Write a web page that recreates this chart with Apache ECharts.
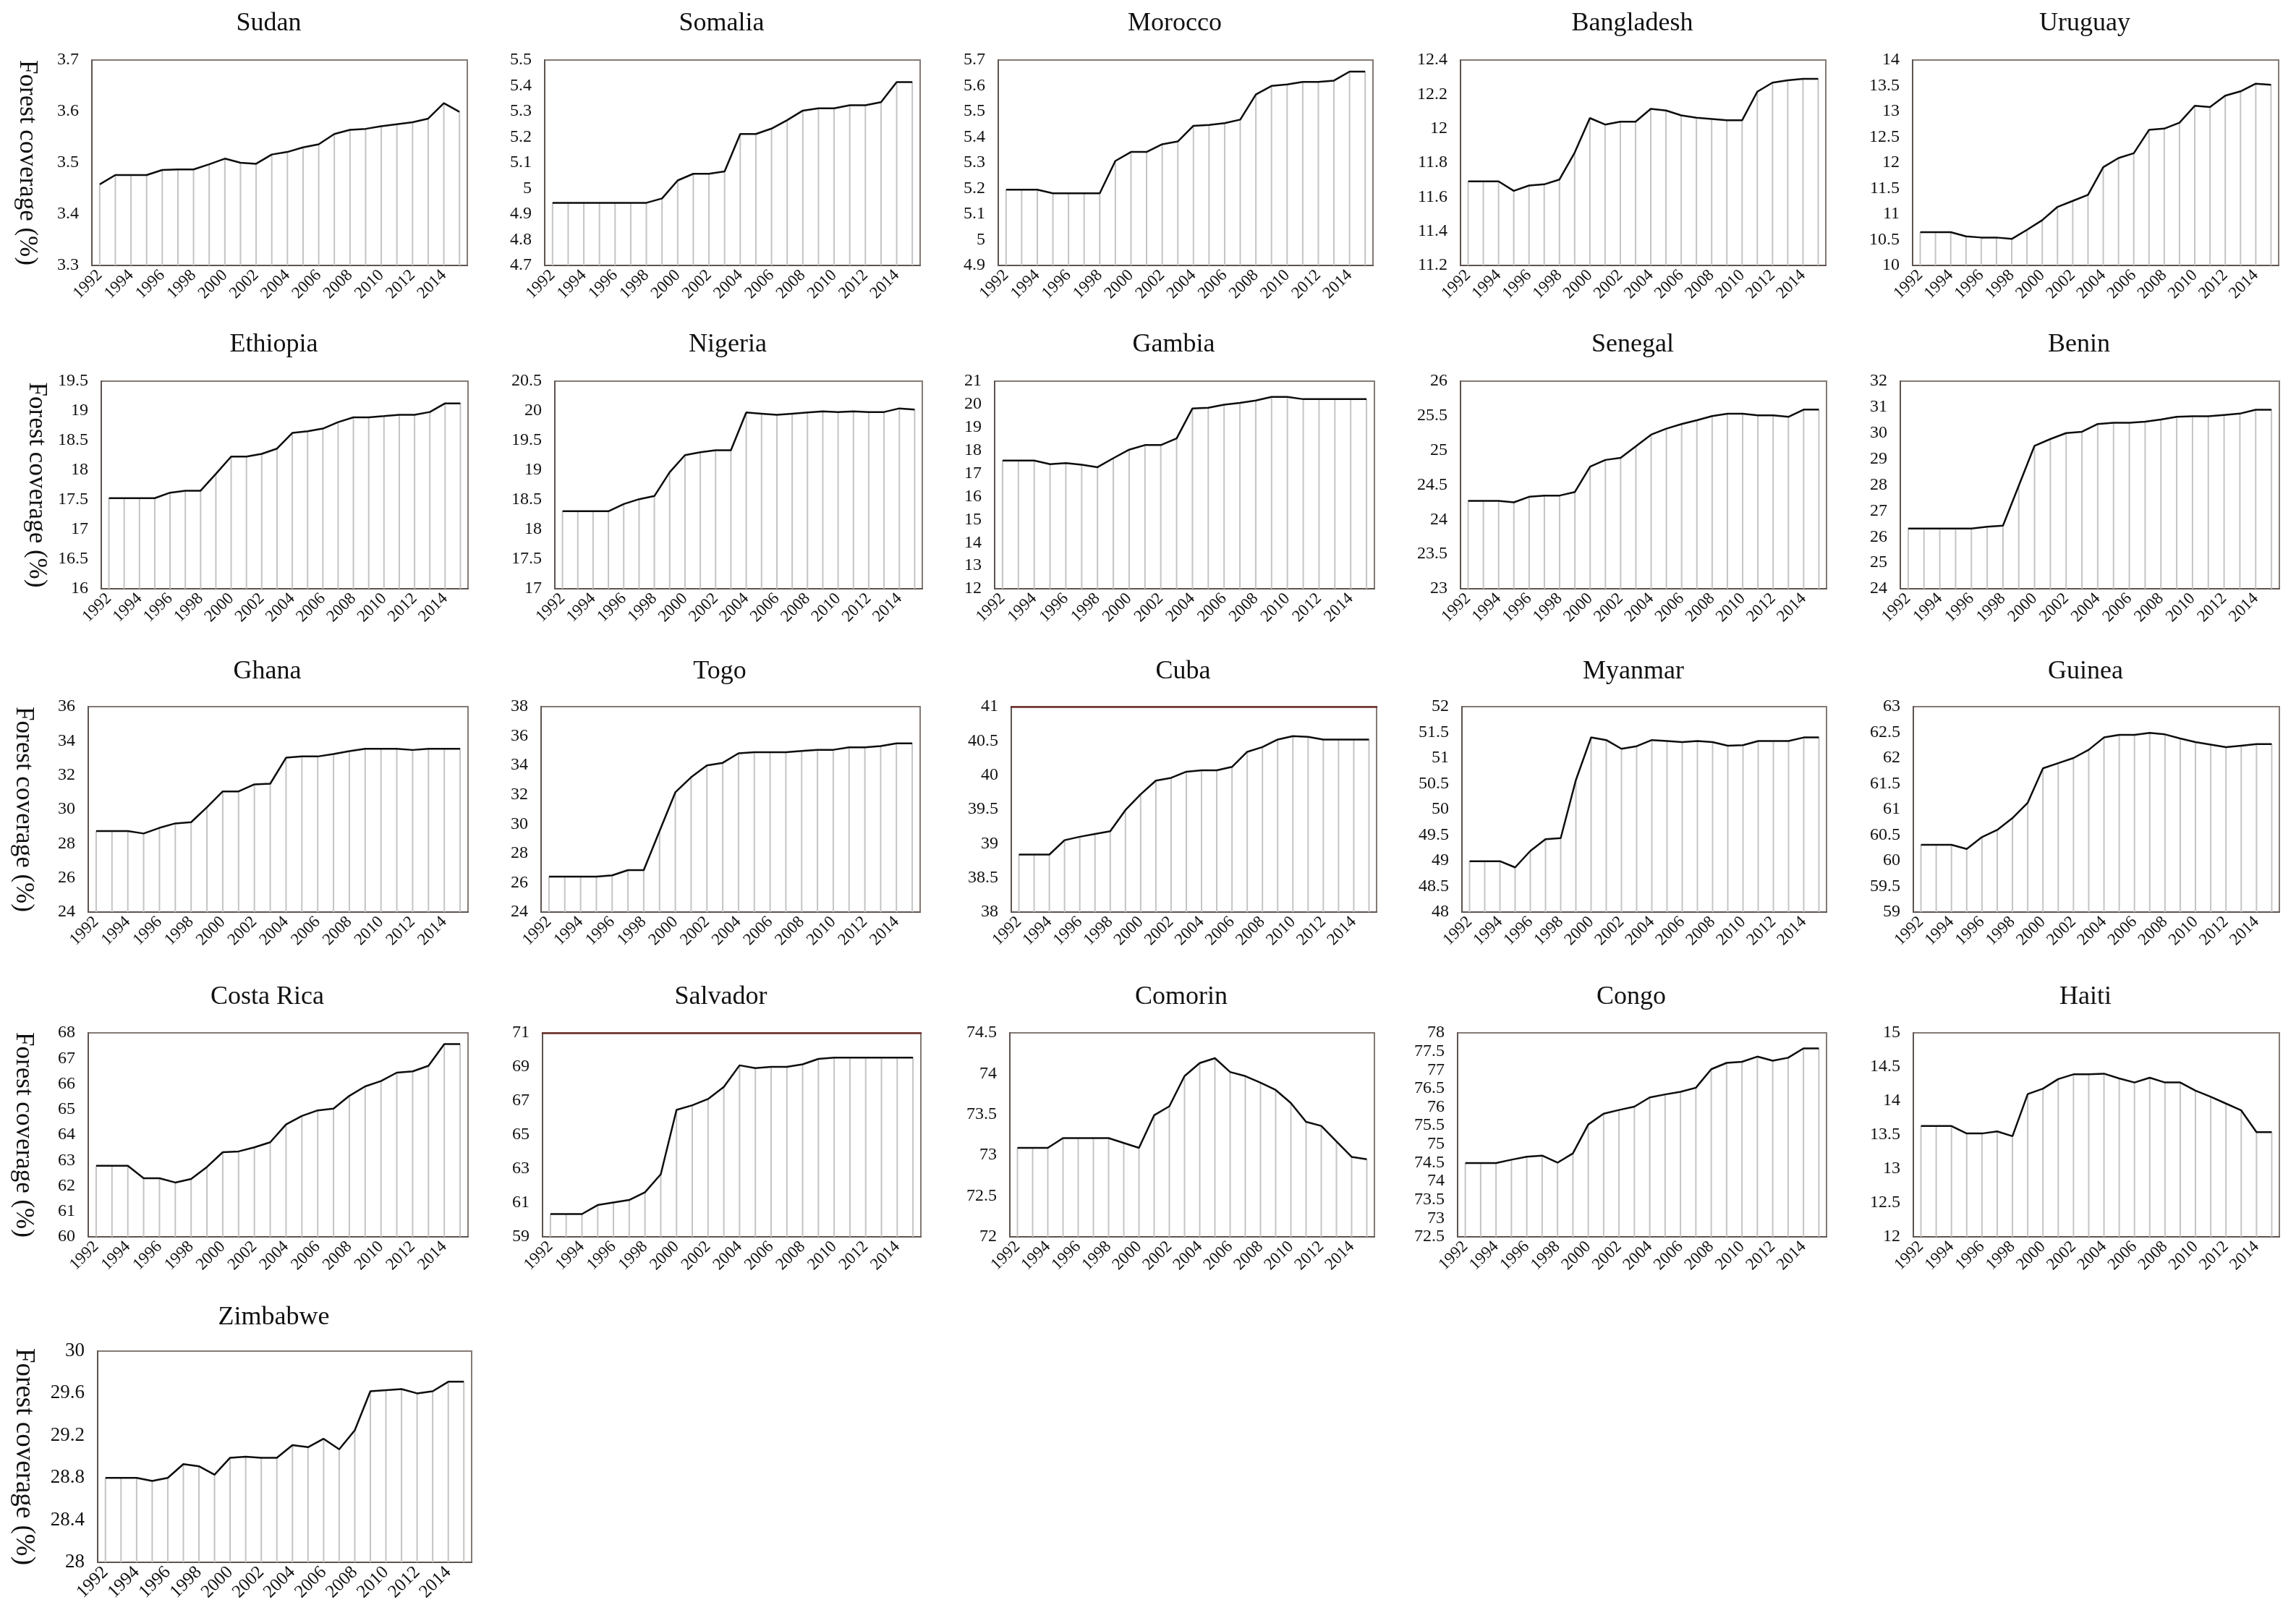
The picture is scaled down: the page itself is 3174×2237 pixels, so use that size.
<!DOCTYPE html>
<html><head><meta charset="utf-8">
<script src="https://cdn.jsdelivr.net/npm/echarts@6/dist/echarts.min.js"></script>
<style>html,body{margin:0;padding:0;background:#ffffff;} #c{width:3174px;height:2237px;}</style>
</head><body><div id="c"></div><script>
// ---------- data ----------
const years = ['1992','1993','1994','1995','1996','1997','1998','1999','2000','2001','2002','2003','2004','2005','2006','2007','2008','2009','2010','2011','2012','2013','2014','2015'];
const countries = ['Sudan','Somalia','Morocco','Bangladesh','Uruguay','Ethiopia','Nigeria','Gambia','Senegal','Benin','Ghana','Togo','Cuba','Myanmar','Guinea','Costa Rica','Salvador','Comorin','Congo','Haiti','Zimbabwe'];

const sudan = [3.458,3.476,3.476,3.476,3.486,3.487,3.487,3.497,3.508,3.500,3.498,3.516,3.521,3.530,3.536,3.556,3.564,3.566,3.571,3.575,3.579,3.586,3.616,3.599];
const somalia = [4.944,4.944,4.944,4.944,4.944,4.944,4.944,4.961,5.031,5.057,5.057,5.066,5.212,5.212,5.233,5.266,5.303,5.312,5.312,5.324,5.324,5.336,5.414,5.414];
const morocco = [5.195,5.195,5.195,5.181,5.181,5.181,5.181,5.307,5.342,5.342,5.372,5.383,5.444,5.447,5.454,5.468,5.566,5.599,5.605,5.615,5.615,5.620,5.655,5.655];
const bangladesh = [11.691,11.691,11.691,11.636,11.667,11.674,11.702,11.859,12.061,12.023,12.040,12.040,12.115,12.105,12.077,12.063,12.056,12.048,12.048,12.215,12.268,12.282,12.290,12.290];
const uruguay = [10.647,10.647,10.647,10.568,10.544,10.544,10.516,10.694,10.882,11.140,11.257,11.374,11.913,12.092,12.185,12.640,12.664,12.781,13.109,13.086,13.306,13.390,13.540,13.517];
const ethiopia = [17.527,17.527,17.527,17.527,17.620,17.653,17.653,17.937,18.229,18.229,18.274,18.363,18.627,18.655,18.700,18.810,18.891,18.891,18.911,18.932,18.932,18.980,19.126,19.126];
const nigeria = [18.307,18.307,18.307,18.307,18.429,18.510,18.563,18.965,19.253,19.302,19.335,19.335,19.972,19.952,19.932,19.952,19.972,19.992,19.980,19.992,19.980,19.980,20.041,20.021];
const gambia = [17.56,17.56,17.56,17.40,17.45,17.38,17.27,17.66,18.03,18.23,18.23,18.52,19.82,19.85,19.98,20.06,20.16,20.32,20.32,20.22,20.22,20.22,20.22,20.22];
const senegal = [24.270,24.270,24.270,24.249,24.329,24.347,24.347,24.399,24.765,24.862,24.893,25.060,25.227,25.314,25.381,25.436,25.495,25.530,25.530,25.506,25.506,25.485,25.589,25.589];
const benin = [26.32,26.32,26.32,26.32,26.32,26.39,26.43,27.97,29.51,29.77,30.00,30.05,30.35,30.40,30.40,30.44,30.52,30.63,30.65,30.65,30.70,30.75,30.90,30.90];
const ghana = [28.73,28.73,28.73,28.59,28.92,29.18,29.25,30.12,31.05,31.05,31.46,31.50,33.02,33.09,33.09,33.23,33.40,33.54,33.54,33.54,33.47,33.54,33.54,33.54];
const togo = [26.41,26.41,26.41,26.41,26.50,26.86,26.86,29.52,32.16,33.19,34.00,34.17,34.82,34.90,34.90,34.90,34.98,35.06,35.06,35.23,35.23,35.31,35.50,35.50];
const cuba = [38.84,38.84,38.84,39.05,39.10,39.14,39.18,39.49,39.72,39.92,39.96,40.05,40.07,40.07,40.12,40.34,40.41,40.52,40.57,40.56,40.52,40.52,40.52,40.52];
const myanmar = [48.99,48.99,48.99,48.87,49.19,49.42,49.44,50.57,51.40,51.35,51.18,51.23,51.35,51.33,51.31,51.33,51.31,51.24,51.25,51.33,51.33,51.33,51.40,51.40];
const guinea = [60.31,60.31,60.31,60.23,60.46,60.60,60.83,61.13,61.80,61.90,62.00,62.16,62.40,62.45,62.45,62.49,62.46,62.38,62.31,62.26,62.21,62.24,62.27,62.27];
const costaRica = [62.79,62.79,62.79,62.30,62.30,62.13,62.27,62.74,63.32,63.35,63.51,63.71,64.41,64.74,64.96,65.03,65.53,65.90,66.11,66.44,66.49,66.71,67.56,67.56];
const salvador = [60.34,60.34,60.34,60.87,61.02,61.17,61.62,62.68,66.47,66.74,67.11,67.82,69.09,68.93,69.00,69.00,69.15,69.47,69.54,69.54,69.54,69.54,69.54,69.54];
const comorin = [73.09,73.09,73.09,73.21,73.21,73.21,73.21,73.15,73.09,73.49,73.60,73.97,74.13,74.19,74.02,73.97,73.89,73.80,73.64,73.41,73.36,73.17,72.98,72.95];
const congo = [74.49,74.49,74.49,74.58,74.66,74.69,74.50,74.75,75.53,75.82,75.92,76.01,76.26,76.34,76.41,76.52,77.02,77.19,77.22,77.36,77.25,77.33,77.58,77.58];
const haiti = [13.63,13.63,13.63,13.52,13.52,13.55,13.48,14.10,14.18,14.32,14.39,14.39,14.40,14.33,14.27,14.34,14.27,14.27,14.15,14.06,13.96,13.86,13.54,13.54];
const zimbabwe = [28.80,28.80,28.80,28.77,28.80,28.93,28.91,28.83,28.99,29.00,28.99,28.99,29.11,29.09,29.17,29.07,29.25,29.62,29.63,29.64,29.60,29.62,29.71,29.71];

const seriesValues = [sudan,somalia,morocco,bangladesh,uruguay,ethiopia,nigeria,gambia,senegal,benin,ghana,togo,cuba,myanmar,guinea,costaRica,salvador,comorin,congo,haiti,zimbabwe];

// y-axis tick ranges: min, max, step
const yMin  = [3.3, 4.7, 4.9, 11.2, 10, 16, 17, 12, 23, 24, 24, 24, 38, 48, 59, 60, 59, 72, 72.5, 12, 28];
const yMax  = [3.7, 5.5, 5.7, 12.4, 14, 19.5, 20.5, 21, 26, 32, 36, 38, 41, 52, 63, 68, 71, 74.5, 78, 15, 30];
const yStep = [0.1, 0.1, 0.1, 0.2, 0.5, 0.5, 0.5, 1, 0.5, 1, 2, 2, 0.5, 0.5, 0.5, 1, 2, 0.5, 0.5, 0.5, 0.4];
const yAxisTitle = 'Forest coverage (%)';

// ---------- layout (plot boxes: left, right, top, bottom) ----------
const rowTB = [[83,367],[527,814],[977,1261],[1428,1710],[1868,2160]];
const colLR = [
  [[127,646],[753,1272],[1380,1898],[2019,2524],[2644,3150]],
  [[140,647],[767,1275],[1375,1900],[2019,2525],[2627,3151]],
  [[122,647],[748,1272],[1398,1903],[2021,2525],[2645,3151]],
  [[122,647],[750,1273],[1396,1900],[2015,2525],[2645,3151]],
  [[135,652]]
];
const titleY = [15, 459, 911, 1361, 1804];
const reddishTop = {12: true, 16: true};

const FONT = 'Liberation Serif';
const grids = [], xAxes = [], yAxes = [], series = [], titles = [];
countries.forEach((name, i) => {
  const r = Math.floor(i / 5), c = i % 5;
  const [l, rr] = colLR[r][c];
  const [t, b] = rowTB[r];
  const big = (i === 20);
  grids.push({left: l, top: t, width: rr - l, height: b - t, show: true,
    borderColor: '#857a74', borderWidth: 2, backgroundColor: 'transparent'});
  titles.push({text: name, left: (l + rr) / 2 - 15, top: titleY[r], textAlign: 'center', padding: 0,
    textStyle: {fontFamily: FONT, fontSize: 36, fontWeight: 'normal', color: '#111111'}});
  xAxes.push({type: 'category', gridIndex: i, data: years, boundaryGap: true,
    axisLine: {show: true, lineStyle: {color: '#5e5450', width: 2}},
    axisTick: {show: false}, splitLine: {show: false},
    axisLabel: {interval: 1, rotate: 45, fontFamily: FONT, fontSize: big ? 25 : 23, color: '#111111', margin: 10}});
  const ticks = [];
  const n = Math.round((yMax[i] - yMin[i]) / yStep[i]);
  for (let k = 0; k <= n; k++) ticks.push(Number((yMin[i] + k * yStep[i]).toFixed(2)));
  const ya = {type: 'value', gridIndex: i, min: yMin[i], max: yMax[i],
    axisLine: {show: true, lineStyle: {color: '#5e5450', width: 2}},
    axisTick: {show: false, customValues: ticks}, splitLine: {show: false},
    axisLabel: {customValues: ticks, fontFamily: FONT, fontSize: big ? 27 : 24, color: '#111111', margin: 18}};
  if (c === 0) {
    ya.name = yAxisTitle; ya.nameLocation = 'middle'; ya.nameRotate = -90; ya.nameGap = big ? 84 : 72;
    ya.nameTextStyle = {fontFamily: FONT, fontSize: big ? 37 : 35, color: '#111111'};
  }
  yAxes.push(ya);
  series.push({type: 'bar', xAxisIndex: i, yAxisIndex: i, data: seriesValues[i], barWidth: 2,
    itemStyle: {color: '#c4c4c4'}, z: 2, clip: true, silent: true});
  series.push({type: 'line', xAxisIndex: i, yAxisIndex: i, data: seriesValues[i], symbol: 'none',
    lineStyle: {color: '#0d0d0d', width: 2.5}, z: 3, silent: true});
});
// dark reddish top frame line on the Cuba and Salvador panels
Object.keys(reddishTop).forEach(k => {
  const i = Number(k);
  xAxes.push({type: 'category', gridIndex: i, position: 'top', data: years,
    axisLine: {show: true, onZero: false, lineStyle: {color: '#6e2f2a', width: 2.5}},
    axisTick: {show: false}, axisLabel: {show: false}, splitLine: {show: false}});
});

const chart = echarts.init(document.getElementById('c'), null, {renderer: 'canvas'});
chart.setOption({animation: false, backgroundColor: '#ffffff', title: titles, grid: grids,
  xAxis: xAxes, yAxis: yAxes, series: series});
</script></body></html>
